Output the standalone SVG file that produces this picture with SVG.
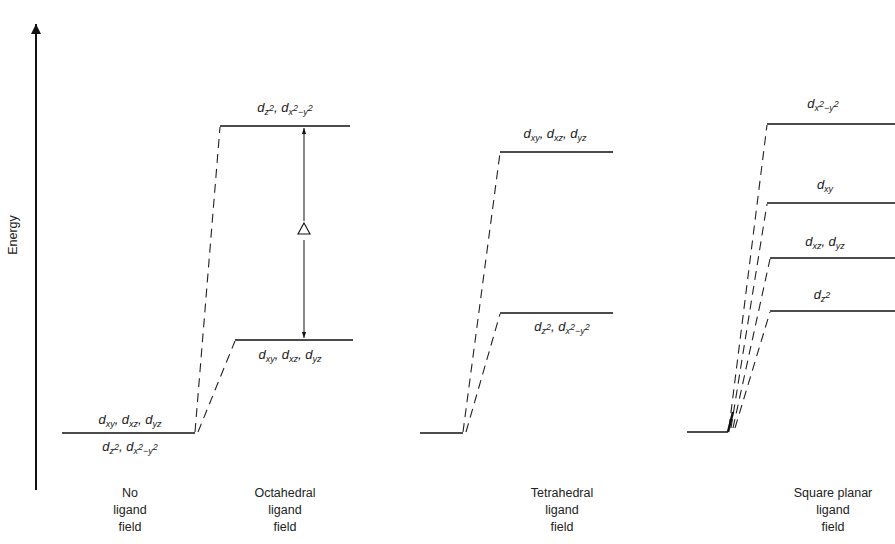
<svg xmlns="http://www.w3.org/2000/svg" width="895" height="544" viewBox="0 0 895 544">
<defs>
<style>
.lvl{stroke:#111;stroke-width:1.6;fill:none}
.dash{stroke:#222;stroke-width:1.1;fill:none;stroke-dasharray:9 6}
.t{font-family:"Liberation Sans",Arial,sans-serif;font-size:12.5px;fill:#222;text-anchor:middle}
.o{font-family:"Liberation Sans",Arial,sans-serif;font-size:13px;fill:#222;text-anchor:middle;font-style:italic}
.s{font-size:9px}
</style>
<marker id="ah" viewBox="0 0 10 10" refX="10" refY="5" markerWidth="6" markerHeight="6" orient="auto-start-reverse">
<path d="M0,1.5 L10,5 L0,8.5 Z" fill="#111"/>
</marker>
<marker id="big" viewBox="0 0 10 10" refX="10" refY="5" markerWidth="5" markerHeight="6" orient="auto">
<path d="M0,0 L10,5 L0,10 Z" fill="#111"/>
</marker>
</defs>
<rect width="895" height="544" fill="#fff"/>

<g id="axis">
<line x1="36" y1="490" x2="36" y2="24" stroke="#111" stroke-width="2" marker-end="url(#big)"/>
<text class="t" transform="translate(17,235) rotate(-90)">Energy</text>
</g>

<g id="connectors">
<line class="dash" x1="195" y1="432" x2="220" y2="127"/>
<line class="dash" x1="198" y1="432" x2="235" y2="341"/>
<line class="dash" x1="463" y1="432" x2="500" y2="153"/>
<line class="dash" x1="466" y1="432" x2="500" y2="314"/>
<line class="dash" x1="729" y1="428" x2="767" y2="125"/>
<line class="dash" x1="731" y1="428" x2="767" y2="204"/>
<line class="dash" x1="733" y1="428" x2="770" y2="259"/>
<line class="dash" x1="735" y1="428" x2="770" y2="312"/>
<line x1="728" y1="432" x2="733" y2="412" stroke="#111" stroke-width="2.5"/>
<line x1="304" y1="128" x2="304" y2="221" stroke="#111" stroke-width="1" marker-start="url(#ah)"/>
<line x1="304" y1="240" x2="304" y2="338" stroke="#111" stroke-width="1" marker-end="url(#ah)"/>
</g>

<g id="free">
<line class="lvl" x1="62" y1="433" x2="195" y2="433"/>
<text class="o" x="130" y="424">d<tspan class="s" dy="3">xy</tspan><tspan dy="-3">, d</tspan><tspan class="s" dy="3">xz</tspan><tspan dy="-3">, d</tspan><tspan class="s" dy="3">yz</tspan></text>
<text class="o" x="130" y="451">d<tspan class="s" dy="3">z</tspan><tspan class="s" dy="-4">2</tspan><tspan dy="1">, d</tspan><tspan class="s" dy="3">x</tspan><tspan class="s" dy="-4">2</tspan><tspan class="s" dy="4">−y</tspan><tspan class="s" dy="-4">2</tspan></text>
<text class="t" x="130" y="497">No</text>
<text class="t" x="130" y="514">ligand</text>
<text class="t" x="130" y="531">field</text>
</g>

<g id="octahedral">
<line class="lvl" x1="220" y1="126" x2="350" y2="126"/>
<line class="lvl" x1="235" y1="340" x2="353" y2="340"/>
<text class="o" x="285" y="112">d<tspan class="s" dy="3">z</tspan><tspan class="s" dy="-4">2</tspan><tspan dy="1">, d</tspan><tspan class="s" dy="3">x</tspan><tspan class="s" dy="-4">2</tspan><tspan class="s" dy="4">−y</tspan><tspan class="s" dy="-4">2</tspan></text>
<text class="o" x="290" y="359">d<tspan class="s" dy="3">xy</tspan><tspan dy="-3">, d</tspan><tspan class="s" dy="3">xz</tspan><tspan dy="-3">, d</tspan><tspan class="s" dy="3">yz</tspan></text>
<path d="M304,223 L310,234 L298,234 Z" fill="#fff" stroke="#111" stroke-width="1.1"/>
<text class="t" x="285" y="497">Octahedral</text>
<text class="t" x="285" y="514">ligand</text>
<text class="t" x="285" y="531">field</text>
</g>

<g id="tetrahedral">
<line class="lvl" x1="420" y1="433" x2="463" y2="433"/>
<line class="lvl" x1="500" y1="152" x2="613" y2="152"/>
<line class="lvl" x1="500" y1="313" x2="613" y2="313"/>
<text class="o" x="555" y="138">d<tspan class="s" dy="3">xy</tspan><tspan dy="-3">, d</tspan><tspan class="s" dy="3">xz</tspan><tspan dy="-3">, d</tspan><tspan class="s" dy="3">yz</tspan></text>
<text class="o" x="562" y="331">d<tspan class="s" dy="3">z</tspan><tspan class="s" dy="-4">2</tspan><tspan dy="1">, d</tspan><tspan class="s" dy="3">x</tspan><tspan class="s" dy="-4">2</tspan><tspan class="s" dy="4">−y</tspan><tspan class="s" dy="-4">2</tspan></text>
<text class="t" x="562" y="497">Tetrahedral</text>
<text class="t" x="562" y="514">ligand</text>
<text class="t" x="562" y="531">field</text>
</g>

<g id="squareplanar">
<line class="lvl" x1="687" y1="432" x2="728" y2="432"/>
<line class="lvl" x1="767" y1="124" x2="895" y2="124"/>
<line class="lvl" x1="767" y1="203" x2="895" y2="203"/>
<line class="lvl" x1="770" y1="258" x2="895" y2="258"/>
<line class="lvl" x1="770" y1="311" x2="895" y2="311"/>
<text class="o" x="823" y="108">d<tspan class="s" dy="3">x</tspan><tspan class="s" dy="-4">2</tspan><tspan class="s" dy="4">−y</tspan><tspan class="s" dy="-4">2</tspan></text>
<text class="o" x="825" y="189">d<tspan class="s" dy="3">xy</tspan></text>
<text class="o" x="825" y="246">d<tspan class="s" dy="3">xz</tspan><tspan dy="-3">, d</tspan><tspan class="s" dy="3">yz</tspan></text>
<text class="o" x="822" y="299">d<tspan class="s" dy="3">z</tspan><tspan class="s" dy="-4">2</tspan></text>
<text class="t" x="833" y="497">Square planar</text>
<text class="t" x="833" y="514">ligand</text>
<text class="t" x="833" y="531">field</text>
</g>
</svg>
